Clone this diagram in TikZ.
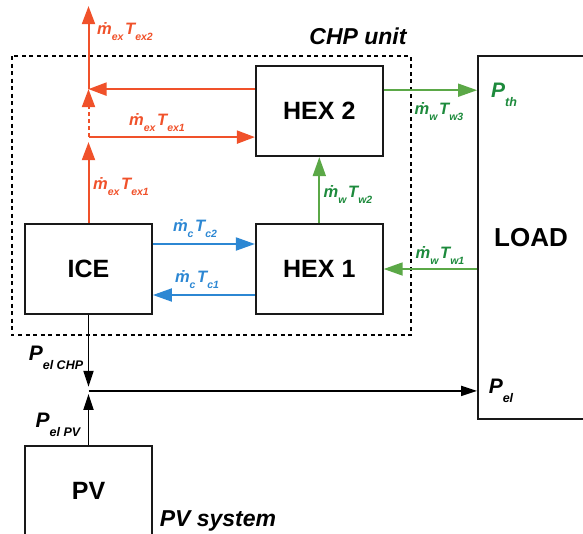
\documentclass[tikz,border=0pt]{standalone}
\usepackage{fontspec}
\setmainfont{Liberation Sans}
\usepackage{xcolor}
\usepackage{tikz}
\usetikzlibrary{arrows.meta, positioning, calc}
\definecolor{exhaustred}{HTML}{F0512A}
\definecolor{coolblue}{HTML}{2C87D3}
\definecolor{waterline}{HTML}{5BA847}
\definecolor{watertext}{HTML}{1D8A3C}
\tikzstyle{unitbox} = [rectangle, draw=black!90, line width=1.8pt, inner sep=0pt,
  minimum width=127pt, minimum height=90pt, font=\fontsize{25}{25}\selectfont\bfseries]
\tikzstyle{flowred} = [draw=exhaustred, line width=2pt, -{Triangle[length=18pt,width=13pt]}]
\tikzstyle{flowblue} = [draw=coolblue, line width=2pt, -{Triangle[length=19pt,width=13pt]}]
\tikzstyle{flowgreen} = [draw=waterline, line width=1.8pt, -{Triangle[length=19pt,width=13pt]}]
\tikzstyle{flowblack} = [draw=black, line width=1.8pt, -{Triangle[length=16pt,width=10pt]}]
\tikzstyle{lbl} = [inner sep=0pt, font=\bfseries\itshape]
\newcommand{\flowlbl}[4]{{\fontsize{16.5}{16.5}\selectfont #1}\raisebox{-6pt}{\fontsize{10.5}{10.5}\selectfont #2}\,{\fontsize{16.5}{16.5}\selectfont #3}\raisebox{-6pt}{\fontsize{10.5}{10.5}\selectfont #4}}
\newcommand{\powlbl}[1]{{\fontsize{21}{21}\selectfont P}\raisebox{-9pt}{\fontsize{12.5}{12.5}\selectfont #1}}

\begin{document}
\begin{tikzpicture}[x=1pt, y=1pt]
  \useasboundingbox (0,0) rectangle (583,-533);

  % CHP unit boundary
  \draw[line width=1.6pt, dash pattern=on 4pt off 3.5pt] (12,-56) rectangle (411,-335);
  \node (chplbl) [lbl, font=\fontsize{23}{23}\selectfont\bfseries\itshape] at (358,-36) {CHP unit};

  \node (ICE) [unitbox] at (88.5,-269) {ICE};
  \node (HEX1) [unitbox, right=102pt of ICE] {HEX 1};
  \node (HEX2) [unitbox, above=66pt of HEX1] {HEX 2};
  \node (PV) [unitbox, below=130pt of ICE] {PV};
  \node (LOAD) [unitbox, minimum width=106pt, minimum height=363pt,
    font=\fontsize{26}{26}\selectfont\bfseries] at (531,-237.5) {LOAD};
  \node (pvlbl) [lbl, font=\fontsize{23}{23}\selectfont\bfseries\itshape] at (218,-521) {PV system};

  % exhaust gas
  \coordinate (exsplit) at ($(ICE.north)+(0,86)$);
  \coordinate (exjoin) at ($(ICE.north)+(0,134)$);
  \coordinate (exout) at ($(ICE.north)+(0,217)$);
  \draw[flowred] (ICE.north) -- ([yshift=-5pt]exsplit);
  \draw[flowred] (exsplit) -- (exsplit -| HEX2.west);
  \draw[flowred, dash pattern=on 4pt off 3pt] (exsplit) -- (exjoin);
  \draw[flowred] (HEX2.west |- exjoin) -- (exjoin);
  \draw[flowred] (exjoin) -- (exout);
  \node (lex2) [lbl, text=exhaustred] at (125,-32) {\flowlbl{ṁ}{ex}{T}{ex2}};
  \node (lex1a) [lbl, text=exhaustred] at (157,-123) {\flowlbl{ṁ}{ex}{T}{ex1}};
  \node (lex1b) [lbl, text=exhaustred] at (121,-187) {\flowlbl{ṁ}{ex}{T}{ex1}};

  % cooling circuit
  \draw[flowblue] ([yshift=25pt]ICE.east) -- ([yshift=25pt]ICE.east -| HEX1.west);
  \draw[flowblue] ([yshift=-26pt]ICE.east -| HEX1.west) -- ([yshift=-26pt]ICE.east);
  \node (lc2) [lbl, text=coolblue] at (195,-229) {\flowlbl{ṁ}{c}{T}{c2}};
  \node (lc1) [lbl, text=coolblue] at (197,-280) {\flowlbl{ṁ}{c}{T}{c1}};

  % water circuit
  \draw[flowgreen] (HEX1.north) -- (HEX2.south);
  \draw[flowgreen] ([yshift=21pt]HEX2.east) -- ([yshift=21pt]HEX2.east -| LOAD.west);
  \draw[flowgreen] (LOAD.west |- HEX1.east) -- (HEX1.east);
  \node (lw2) [lbl, text=watertext] at (348,-195) {\flowlbl{ṁ}{w}{T}{w2}};
  \node (lw3) [lbl, text=watertext] at (439,-112) {\flowlbl{ṁ}{w}{T}{w3}};
  \node (lw1) [lbl, text=watertext] at (440,-256) {\flowlbl{ṁ}{w}{T}{w1}};
  \node (pth) [lbl, text=watertext] at (504,-95) {\powlbl{th}};

  % electric power
  \coordinate (elbus) at ($(ICE.south)+(0,-76)$);
  \draw[flowblack] (ICE.south) -- ([yshift=4pt]elbus);
  \draw[flowblack] (PV.north) -- ([yshift=-3pt]elbus);
  \draw[flowblack] (elbus) -- (elbus -| LOAD.west);
  \node (pchp) [lbl] at (56,-358) {\powlbl{el CHP}};
  \node (ppv) [lbl] at (58,-425) {\powlbl{el PV}};
  \node (pel) [lbl] at (501,-391) {\powlbl{el}};
\end{tikzpicture}
\end{document}
